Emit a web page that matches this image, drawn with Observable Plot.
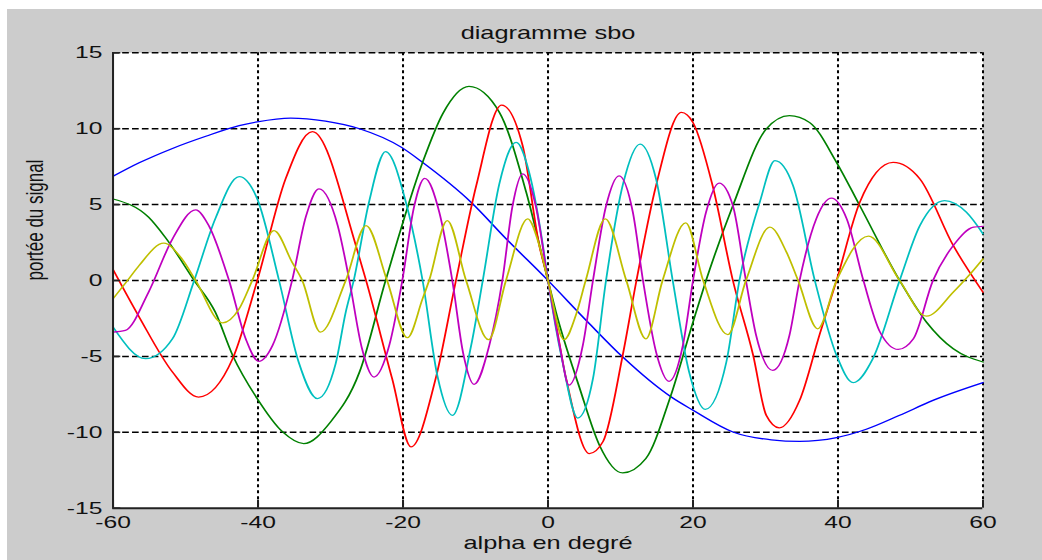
<!DOCTYPE html>
<html>
<head>
<meta charset="utf-8">
<script src="https://cdn.jsdelivr.net/npm/d3@7"></script>
<script src="https://cdn.jsdelivr.net/npm/@observablehq/plot@0.6"></script>
<style>
html,body{margin:0;padding:0;background:#fff;width:1042px;height:560px;overflow:hidden;}
#bg{position:absolute;left:7px;top:9px;width:1035px;height:551px;background:#cccccc;}
#chart{position:absolute;left:0;top:0;transform-origin:0 0;transform:scaleX(1.45);}
</style>
</head>
<body>
<div id="bg"></div>
<div id="chart"></div>
<script>
// ---- data ----
const titleText = "diagramme sbo";
const xLabelText = "alpha en degré";
const yLabelText = "portée du signal";

const xTicks = [-60, -40, -20, 0, 20, 40, 60];
const xTickLabels = ["-60", "-40", "-20", "0", "20", "40", "60"];
const yTicks = [-15, -10, -5, 0, 5, 10, 15];
const yTickLabels = ["-15", "-10", "-5", "0", "5", "10", "15"];

const blueX = [-60, -56.4, -51.8, -47.2, -42.6, -40.1, -35.5, -30.7, -26, -20.2, -17.3, -10.6, -5.8, 0, 5.5, 10.3, 17, 20, 25.5, 30.8, 34.7, 39.8, 43.9, 48.5, 53.1, 60];
const blueY = [6.86, 7.75, 8.7, 9.5, 10.2, 10.45, 10.7, 10.5, 10.0, 8.77, 7.78, 5.15, 2.76, 0, -2.74, -5.04, -7.68, -8.55, -9.98, -10.5, -10.6, -10.35, -9.8, -8.88, -7.9, -6.73];

const greenX = [-60, -55.1, -52.8, -48.8, -45.9, -43.5, -40.1, -36.6, -33.7, -30, -26, -22.4, -17.3, -14.5, -10.9, -6.7, -3.0, 0, 1.1, 4.3, 7.1, 10.3, 13.5, 16.8, 20, 21.8, 25.5, 30.1, 33.3, 36.1, 39.8, 43, 48.5, 52.2, 55.9, 60];
const greenY = [5.37, 4.17, 2.85, 0, -2.08, -4.93, -7.79, -9.98, -10.75, -9.32, -6.03, 0, 7.78, 11.0, 12.78, 11.07, 5.8, 0, -2.08, -7.0, -10.86, -12.68, -11.73, -7.78, -2.74, 0, 4.93, 9.98, 10.86, 10.4, 7.78, 4.93, 0, -2.74, -4.5, -5.37];

const redX = [-60, -56.4, -51.8, -48.2, -43.5, -40.1, -36.2, -32.5, -26.5, -25.1, -21.5, -18.9, -15.5, -12.7, -9.9, -6.4, -3.5, -1.2, 0, 2.5, 5.7, 7.6, 10.3, 12.2, 14.9, 18.4, 20, 22.7, 25.5, 28.3, 30.1, 31.9, 34.7, 37.5, 39.8, 43, 47.6, 51.3, 55.9, 60];
const redY = [0.72, -2.4, -6.03, -7.68, -5.15, 0, 6.69, 9.8, 2.3, 0, -6.47, -10.96, -6.47, 0, 6.25, 11.56, 8.88, 2.3, 0, -6.47, -11.4, -10.6, -4.93, 0, 6.25, 11.07, 10.4, 6.25, 0, -4.93, -8.88, -9.71, -7.9, -3.5, 0, 5.15, 7.78, 6.69, 2.3, -0.77];

const cyanX = [-60, -55.5, -51.8, -48.8, -45.9, -42.6, -40.1, -37.1, -34.4, -31.8, -29.3, -27.9, -26.8, -24.7, -22.4, -19.6, -17.3, -15.25, -13.2, -10.6, -9.0, -6.7, -4.4, -2.6, -0.7, 0, 2.0, 4.1, 6.2, 8.0, 10.35, 12.7, 14.9, 17.2, 19.45, 21.7, 24.6, 26.4, 29.2, 31.3, 33.8, 36.8, 39.8, 42.1, 44.8, 48.5, 51.3, 54.7, 57.7, 60];
const cyanY = [-3.07, -5.15, -3.84, 0, 4.06, 6.84, 5.37, 0, -5.37, -7.78, -5.5, -2.08, 0, 5.15, 8.49, 5.15, 0, -6.3, -8.88, -4.28, 0, 6.4, 9.1, 7.12, 2.3, 0, -5.37, -9.06, -6.47, 0, 6.36, 8.99, 6.69, 0, -6.0, -8.49, -5.37, 0, 5.15, 7.89, 6.25, 0, -4.93, -6.73, -5.15, 0, 3.62, 5.26, 4.5, 3.07];

const magentaX = [-60, -58.3, -55.1, -51.8, -48.6, -46.8, -44, -41.7, -39.9, -38.0, -35.3, -33.4, -31.6, -29, -27.4, -25.7, -24, -21.9, -20.1, -18.5, -17, -15, -13.2, -11.7, -10.2, -8.1, -6.3, -4.9, -3.5, -1.7, 0, 1.6, 2.9, 4.8, 6.2, 8, 9.8, 11.7, 13.1, 14.9, 16.7, 18.6, 20, 21.8, 23.6, 25.5, 27.3, 28.7, 31.0, 33.3, 34.7, 37, 39.1, 41.2, 43.5, 45.8, 48.3, 50.4, 53.1, 55.9, 58.7, 60];
const magentaY = [-3.4, -3.29, -0.77, 2.74, 4.65, 3.62, 0, -3.84, -5.33, -4.28, 0, 4.2, 6.03, 3.6, 0, -4.4, -6.36, -4.28, 0, 4.8, 6.73, 4.5, 0, -4.8, -6.84, -4.28, 0, 4.9, 7.02, 4.93, 0, -4.28, -6.9, -4.28, 0, 4.9, 6.9, 4.5, 0, -4.7, -6.64, -4.28, 0, 4.5, 6.42, 4.93, 0, -3.6, -5.92, -3.62, 0, 4.06, 5.42, 4.06, 0, -3.4, -4.54, -3.84, 0, 2.3, 3.51, 3.57];

const yellowX = [-60, -58, -56.4, -53, -50.5, -48.6, -44.9, -42.6, -40.8, -37.8, -35.3, -33.9, -31.4, -27.9, -25.1, -22.2, -19.4, -17.3, -16.4, -13.9, -11.3, -8.2, -5.8, -2.8, -1.2, 0, 2.2, 3.9, 5.2, 7.9, 10.8, 13.5, 15.8, 19, 21.4, 24.8, 27.3, 30.6, 32.9, 34.5, 37.2, 39.8, 44.2, 48.5, 52.2, 55.9, 58, 60];
const yellowY = [-1.2, 0, 0.99, 2.46, 1.43, 0, -2.79, -1.86, 0, 3.29, 1.2, 0, -3.4, 0, 3.62, 0, -3.77, -1.2, 0, 3.95, 0, -3.9, 0, 4.06, 2.3, 0, -3.9, -2.2, 0, 4.06, 0, -3.84, 0, 3.8, 0, -3.57, 0, 3.51, 1.86, 0, -3.18, 0, 2.92, 0, -2.35, -0.77, 0.3, 1.43];

const seriesNames = ["bleu", "vert", "rouge", "cyan", "magenta", "jaune"];
const seriesColors = ["#0000ff", "#008000", "#ff0000", "#00bfbf", "#bf00bf", "#bfbf00"];
const seriesX = [blueX, greenX, redX, cyanX, magentaX, yellowX];
const seriesY = [blueY, greenY, redY, cyanY, magentaY, yellowY];

// ---- layout (picture is horizontally stretched) ----
const S = 1.45;
const W = 1042 / S, H = 560;
const mL = 112.3 / S, mR = (1042 - 982.3) / S, mT = 52.3, mB = 560 - 507.7;
const plotW = W - mL - mR, plotH = H - mT - mB;

const xTickRows = xTicks.map((v, i) => ({v, label: xTickLabels[i]}));
const yTickRows = yTicks.map((v, i) => ({v, label: yTickLabels[i]}));

const lineMarks = seriesNames.map((name, k) => {
  const rows = seriesX[k].map((x, i) => ({alpha: x, value: seriesY[k][i]}));
  return Plot.line(rows, {x: "alpha", y: "value", stroke: seriesColors[k], strokeWidth: 1.25, curve: "monotone-x"});
});

const chart = Plot.plot({
  width: W, height: H,
  marginLeft: mL, marginRight: mR, marginTop: mT, marginBottom: mB,
  style: {background: "transparent", fontFamily: "'Liberation Sans', Arial, sans-serif", fontSize: "17px", color: "#111", overflow: "visible"},
  x: {domain: [-60, 60], axis: null},
  y: {domain: [-15, 15], axis: null},
  marks: [
    Plot.frame({fill: "white", stroke: "none"}),
    Plot.ruleY(yTicks.slice(1), {stroke: "#000", strokeWidth: 1.5, strokeDasharray: "4.6,2.2"}),
    Plot.ruleX(xTicks.slice(1), {stroke: "#000", strokeWidth: 1.4, strokeDasharray: "3,3"}),
    ...lineMarks,
    Plot.ruleX([xTicks[0]], {stroke: "#222", strokeWidth: 1.4}),
    Plot.ruleY([yTicks[0]], {stroke: "#222", strokeWidth: 2}),
    Plot.ruleX(xTicks, {insetTop: plotH - 8, stroke: "#222", strokeWidth: 1.4}),
    Plot.ruleY(yTicks, {insetRight: plotW - 5.5, stroke: "#222", strokeWidth: 1.6}),
    Plot.text(xTickRows, {x: "v", text: "label", frameAnchor: "bottom", lineAnchor: "top", dy: 7.3, fill: "#111"}),
    Plot.text(yTickRows, {y: "v", text: "label", frameAnchor: "left", textAnchor: "end", dx: -7.3, fill: "#111"}),
    Plot.text([titleText], {text: d => d, frameAnchor: "top", lineAnchor: "bottom", dy: -14, fill: "#111", fontSize: 17.5}),
    Plot.text([xLabelText], {text: d => d, frameAnchor: "bottom", lineAnchor: "bottom", dy: 41.3, fill: "#111", fontSize: 17.5}),
    Plot.text([yLabelText], {text: d => d, frameAnchor: "left", rotate: -90, dx: -54, fill: "#111", fontSize: 17})
  ]
});
document.getElementById("chart").appendChild(chart);
</script>
</body>
</html>
